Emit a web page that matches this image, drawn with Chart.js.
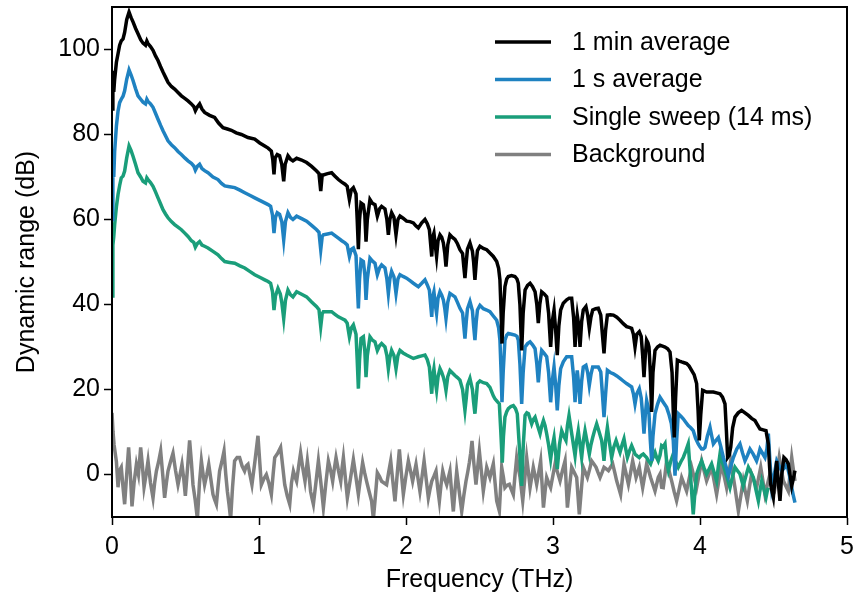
<!DOCTYPE html>
<html>
<head>
<meta charset="utf-8">
<script src="https://cdn.jsdelivr.net/npm/chart.js@4.4.1/dist/chart.umd.min.js"></script>
<style>
    html, body { margin: 0; padding: 0; background: #ffffff; }
</style>
</head>
<body>
<canvas id="dynamic_range_chart" width="864" height="598"></canvas>
<script>
// series: [frequency (THz), dynamic range (dB)]
const minAvg = [
    [0.000, 86], [0.006, 95], [0.012, 90], [0.018, 93], [0.030, 97], [0.041, 99], [0.052, 101], [0.063, 102],
    [0.075, 102.5], [0.086, 104], [0.100, 107], [0.116, 108.8], [0.130, 107.5], [0.143, 106.5], [0.160, 105],
    [0.177, 103.7], [0.195, 102.3], [0.211, 101.5], [0.228, 101], [0.237, 102], [0.245, 101.4], [0.262, 100.7],
    [0.279, 99.8], [0.296, 98.5], [0.313, 97.4], [0.330, 96], [0.347, 94.7], [0.364, 93.5], [0.381, 92.3],
    [0.404, 91.3], [0.426, 90.7], [0.449, 89.9], [0.472, 89.1], [0.495, 88.5], [0.517, 87.9], [0.540, 87.2],
    [0.556, 86.6], [0.567, 85.6], [0.580, 86.5], [0.596, 87.2], [0.612, 86], [0.630, 85.2], [0.664, 84.5],
    [0.698, 84], [0.725, 82.7], [0.755, 81.6], [0.785, 81.3], [0.812, 81], [0.845, 80.4], [0.880, 80],
    [0.925, 79.3], [0.971, 78.9], [1.005, 78], [1.039, 77.3], [1.062, 76.8], [1.084, 76.1], [1.094, 74],
    [1.102, 70.6], [1.110, 74.5], [1.124, 75.3], [1.140, 75], [1.155, 73], [1.168, 69], [1.178, 73],
    [1.197, 75], [1.214, 74.2], [1.231, 73.8], [1.256, 74.4], [1.290, 74], [1.324, 73.4], [1.358, 72.5],
    [1.392, 71.4], [1.408, 70.8], [1.420, 66.7], [1.430, 70.5], [1.438, 70.5], [1.466, 70.8], [1.494, 71],
    [1.517, 70.2], [1.540, 69.4], [1.563, 68.8], [1.585, 68.3], [1.600, 67.8], [1.615, 64.7], [1.628, 67],
    [1.642, 67.5], [1.660, 66], [1.668, 60], [1.676, 53], [1.684, 60], [1.694, 63.9], [1.710, 63.5],
    [1.720, 61], [1.728, 54.8], [1.737, 60], [1.755, 64.7], [1.772, 63.8], [1.789, 63.5], [1.805, 60.8],
    [1.820, 62.5], [1.834, 63.1], [1.857, 62.5], [1.870, 60], [1.880, 56.4], [1.890, 60], [1.902, 61.6],
    [1.918, 60.5], [1.932, 56.4], [1.945, 60], [1.959, 60.8], [1.980, 60.3], [2.004, 59.6], [2.027, 59.5],
    [2.050, 59.2], [2.067, 58.5], [2.084, 58], [2.107, 59.2], [2.129, 60], [2.145, 59], [2.159, 57.6],
    [2.175, 51.3], [2.183, 56], [2.190, 56.8], [2.199, 54], [2.208, 51.3], [2.218, 55], [2.231, 56.4],
    [2.243, 55.8], [2.254, 54.5], [2.264, 52], [2.272, 48.9], [2.284, 54], [2.299, 56.4], [2.316, 55.8],
    [2.333, 55.3], [2.350, 54.3], [2.367, 52.9], [2.385, 52], [2.393, 49], [2.401, 46.2], [2.410, 50],
    [2.418, 53], [2.435, 54.5], [2.452, 52.5], [2.460, 50], [2.469, 45.8], [2.478, 50], [2.486, 52.7],
    [2.503, 53.7], [2.526, 53.2], [2.549, 52.9], [2.571, 52.1], [2.594, 51.3], [2.617, 50.1], [2.630, 48.5],
    [2.639, 45.8], [2.647, 38], [2.653, 30.8], [2.661, 38], [2.673, 44.2], [2.685, 46], [2.696, 46.6],
    [2.718, 46.8], [2.741, 46.6], [2.755, 46], [2.764, 45], [2.775, 40], [2.787, 29.2], [2.797, 38],
    [2.810, 43.4], [2.827, 44.5], [2.844, 45], [2.861, 44.2], [2.878, 43], [2.890, 40], [2.900, 35.6],
    [2.910, 40], [2.923, 43], [2.940, 42.5], [2.957, 41.8], [2.970, 38], [2.984, 30], [2.995, 36],
    [3.007, 38.7], [3.018, 34], [3.029, 28.1], [3.040, 35], [3.052, 38.7], [3.070, 40.3], [3.093, 41.1],
    [3.110, 41.5], [3.127, 41.5], [3.140, 37], [3.150, 30], [3.158, 35], [3.165, 37.5], [3.175, 35],
    [3.184, 30], [3.195, 36], [3.206, 38.7], [3.224, 39.5], [3.236, 37.5], [3.247, 34.4], [3.258, 37],
    [3.270, 38.7], [3.290, 39], [3.308, 39.1], [3.325, 37.5], [3.336, 33], [3.347, 28.5], [3.358, 34],
    [3.370, 37.5], [3.390, 37.6], [3.411, 37.5], [3.434, 37], [3.456, 36.3], [3.478, 35.5], [3.501, 34.8],
    [3.518, 34.6], [3.535, 34.4], [3.547, 33], [3.558, 30], [3.570, 33], [3.587, 33.6], [3.600, 32.5],
    [3.610, 28], [3.619, 22.9], [3.628, 28], [3.637, 31.6], [3.646, 31], [3.653, 30], [3.662, 24],
    [3.671, 14.7], [3.680, 24], [3.694, 29.2], [3.711, 30], [3.728, 30.4], [3.745, 30.2], [3.762, 30],
    [3.780, 29.6], [3.796, 28.8], [3.810, 24], [3.818, 15], [3.825, 8.7], [3.834, 18], [3.846, 26.9],
    [3.860, 26.7], [3.875, 26.5], [3.892, 26.3], [3.909, 26.1], [3.926, 25.5], [3.943, 24.5], [3.960, 23.5],
    [3.977, 21.4], [3.987, 15], [3.995, 8], [4.005, 14], [4.018, 19.8], [4.031, 19.6], [4.045, 19.4],
    [4.068, 19.4], [4.091, 19.4], [4.113, 19.2], [4.136, 19], [4.153, 18.2], [4.170, 16.6], [4.180, 10],
    [4.188, 4], [4.198, 4.5], [4.209, 6.4], [4.222, 11], [4.238, 13.5], [4.260, 14.5], [4.283, 15.1],
    [4.306, 14.5], [4.329, 13.9], [4.351, 13.2], [4.374, 12.7], [4.391, 11.7], [4.408, 10.7], [4.430, 10.5],
    [4.449, 10.3], [4.465, 7.2], [4.473, 2], [4.481, -2.3], [4.490, -4], [4.499, -5.4], [4.510, -1],
    [4.522, 3.2], [4.533, -2], [4.544, -6.2], [4.556, 0], [4.571, 4], [4.585, 3.5], [4.601, 2.5],
    [4.612, 0], [4.624, -2.7], [4.635, -1], [4.646, 0.9]
];
const secAvg = [
    [0.000, 60], [0.006, 72], [0.012, 70], [0.018, 76], [0.030, 82], [0.041, 85.5], [0.052, 87.5], [0.063, 88.3],
    [0.075, 89], [0.086, 90.3], [0.100, 93], [0.116, 95.2], [0.130, 94], [0.143, 92.7], [0.160, 90.8],
    [0.177, 89.1], [0.195, 88.3], [0.211, 87.6], [0.228, 87.2], [0.237, 88.3], [0.245, 87.8], [0.262, 87.2],
    [0.279, 86.4], [0.296, 85], [0.313, 83.6], [0.330, 82.2], [0.347, 80.9], [0.364, 79.7], [0.381, 78.5],
    [0.404, 77.6], [0.426, 76.9], [0.449, 76], [0.472, 75.3], [0.495, 74.5], [0.517, 73.8], [0.540, 73.2],
    [0.556, 72.6], [0.567, 71.6], [0.580, 72.5], [0.596, 73], [0.612, 72], [0.630, 71.5], [0.653, 71],
    [0.687, 70], [0.721, 69.4], [0.745, 68.5], [0.767, 67.9], [0.800, 67.7], [0.835, 67.5], [0.870, 66.9],
    [0.903, 66.3], [0.937, 65.7], [0.971, 65.1], [1.005, 64.5], [1.039, 63.9], [1.062, 63.5], [1.079, 63.1],
    [1.092, 61], [1.102, 56.8], [1.112, 60.5], [1.124, 61.6], [1.140, 61.2], [1.155, 59.5], [1.168, 55.2],
    [1.180, 59.5], [1.197, 61.6], [1.214, 60.5], [1.231, 60], [1.256, 60.8], [1.290, 60.2], [1.324, 59.6],
    [1.358, 58.6], [1.392, 57.6], [1.408, 57], [1.420, 52.9], [1.430, 56], [1.438, 56.4], [1.466, 56.6],
    [1.494, 56.8], [1.517, 56.2], [1.540, 55.6], [1.563, 55], [1.585, 54.5], [1.600, 54], [1.615, 51.3],
    [1.628, 53], [1.642, 53.3], [1.660, 51.5], [1.668, 45], [1.676, 39.1], [1.684, 46], [1.694, 50.5],
    [1.710, 50.1], [1.720, 47], [1.728, 41.1], [1.737, 46], [1.755, 50.9], [1.772, 50.2], [1.789, 49.7],
    [1.805, 47], [1.820, 48.6], [1.834, 49.3], [1.857, 48.6], [1.870, 46], [1.880, 42.6], [1.890, 46],
    [1.902, 47.8], [1.918, 46.5], [1.932, 42.6], [1.945, 46], [1.959, 47], [1.980, 46.6], [2.004, 46.2],
    [2.027, 45.6], [2.050, 45], [2.067, 44.6], [2.084, 44.2], [2.107, 45], [2.129, 45.8], [2.145, 44.6],
    [2.159, 43.4], [2.175, 37.1], [2.183, 42], [2.190, 43], [2.199, 40], [2.208, 37.9], [2.218, 41.5],
    [2.231, 43], [2.243, 42.2], [2.254, 41.1], [2.264, 39], [2.272, 36.7], [2.284, 40.5], [2.299, 42.6],
    [2.316, 42.2], [2.333, 41.8], [2.350, 40.5], [2.367, 39.1], [2.385, 38], [2.393, 35], [2.401, 32],
    [2.410, 36], [2.418, 39], [2.435, 40.7], [2.452, 38.5], [2.460, 35], [2.469, 31.6], [2.478, 36],
    [2.486, 38.7], [2.503, 39.8], [2.526, 39], [2.549, 38.7], [2.571, 38.3], [2.594, 37.3], [2.617, 36.3],
    [2.630, 34.5], [2.639, 31.6], [2.647, 24], [2.653, 17], [2.661, 24], [2.673, 31.6], [2.685, 32.8],
    [2.696, 33.2], [2.718, 33], [2.741, 32.8], [2.755, 32.5], [2.764, 31.6], [2.775, 26], [2.787, 16.6],
    [2.797, 24], [2.810, 30], [2.827, 30.8], [2.844, 31.2], [2.861, 30.5], [2.878, 29.6], [2.890, 26],
    [2.900, 21.7], [2.910, 26], [2.923, 29.2], [2.940, 28.5], [2.957, 27.7], [2.970, 24], [2.984, 17],
    [2.995, 22], [3.007, 25.3], [3.018, 21], [3.029, 15.1], [3.040, 21], [3.052, 24.9], [3.070, 26.5],
    [3.093, 27.7], [3.110, 27.7], [3.127, 27.7], [3.140, 23], [3.150, 17], [3.158, 22], [3.165, 24.5],
    [3.175, 21], [3.184, 16.6], [3.195, 22], [3.206, 25.3], [3.224, 25.7], [3.236, 24], [3.247, 21],
    [3.258, 23.5], [3.270, 25.3], [3.290, 25.3], [3.308, 25.3], [3.325, 24.1], [3.336, 19], [3.347, 13.5],
    [3.358, 19], [3.370, 24.5], [3.390, 24], [3.411, 23.7], [3.434, 23.2], [3.456, 22.6], [3.478, 22],
    [3.501, 21.4], [3.518, 21], [3.535, 20.6], [3.547, 19], [3.558, 16.6], [3.570, 19], [3.587, 20.2],
    [3.600, 18], [3.610, 14], [3.619, 9.6], [3.628, 14], [3.637, 17.4], [3.646, 16], [3.653, 14.3],
    [3.662, 8], [3.671, 3.2], [3.680, 9], [3.694, 14.3], [3.711, 16.5], [3.728, 18.2], [3.750, 17],
    [3.773, 15.8], [3.790, 14], [3.805, 12], [3.818, 8], [3.830, -0.3], [3.841, 8], [3.852, 14.3],
    [3.870, 13.7], [3.886, 13.1], [3.903, 12.3], [3.920, 11.5], [3.937, 11], [3.954, 10.3], [3.970, 8.5],
    [3.988, 7.2], [4.000, 6.5], [4.011, 6], [4.022, 6], [4.034, 6.4], [4.050, 9], [4.068, 11.1],
    [4.080, 9], [4.091, 7.2], [4.108, 8], [4.125, 8.7], [4.142, 6.5], [4.159, 4], [4.176, 2],
    [4.193, -0.3], [4.210, 2], [4.227, 4], [4.250, 6], [4.272, 7.2], [4.290, 5], [4.306, 3.2],
    [4.323, 4.5], [4.340, 6], [4.362, 4.8], [4.385, 3.2], [4.397, 4.5], [4.408, 6], [4.425, 5],
    [4.442, 4], [4.455, 6], [4.465, 9.6], [4.476, 3], [4.488, -3.1], [4.505, 0], [4.522, 3.2],
    [4.539, 2], [4.556, 0.9], [4.573, 1.5], [4.590, 2.5], [4.607, 0], [4.624, -3.1], [4.635, -5], [4.646, -6.6]
];
const singleSweep = [
    [0.000, 42], [0.006, 54], [0.012, 56], [0.018, 58.8], [0.030, 63], [0.041, 65.9], [0.052, 68], [0.063, 69.8],
    [0.075, 70.2], [0.086, 71.4], [0.100, 74.5], [0.116, 77.3], [0.130, 76.2], [0.143, 74.9], [0.160, 73],
    [0.177, 71], [0.195, 70], [0.211, 69], [0.228, 68.6], [0.237, 69.8], [0.245, 69.4], [0.262, 68.7],
    [0.279, 67.8], [0.296, 66.5], [0.313, 65.1], [0.330, 63.7], [0.347, 62.3], [0.364, 61.3], [0.381, 60.4],
    [0.404, 59.5], [0.426, 58.8], [0.449, 58.2], [0.472, 57.6], [0.495, 56.8], [0.517, 56], [0.540, 55],
    [0.556, 54.6], [0.567, 53.5], [0.580, 54.3], [0.596, 54.8], [0.612, 54], [0.630, 53.7], [0.653, 53.3],
    [0.687, 52.5], [0.721, 51.7], [0.745, 50.8], [0.767, 50.1], [0.800, 49.9], [0.835, 49.7], [0.870, 49.1],
    [0.903, 48.6], [0.937, 47.8], [0.971, 47], [1.005, 46.4], [1.039, 45.8], [1.062, 45.4], [1.079, 45],
    [1.092, 43], [1.102, 38.7], [1.112, 42], [1.129, 43.8], [1.145, 42.5], [1.155, 40.5], [1.168, 36.7],
    [1.180, 41], [1.197, 43.4], [1.214, 42.3], [1.231, 41.8], [1.256, 43], [1.290, 42.4], [1.324, 41.8],
    [1.358, 40.6], [1.392, 39.5], [1.408, 38.8], [1.420, 34.8], [1.430, 37.8], [1.438, 38.3], [1.466, 38.3],
    [1.494, 38.3], [1.517, 37.7], [1.540, 37.1], [1.563, 36.7], [1.585, 36.3], [1.600, 35.6], [1.615, 32.4],
    [1.628, 34.5], [1.642, 35.2], [1.660, 33], [1.668, 27], [1.676, 20.2], [1.684, 27], [1.694, 32],
    [1.710, 32.4], [1.720, 29], [1.728, 22.9], [1.737, 28], [1.755, 32.4], [1.772, 31.6], [1.789, 31.2],
    [1.805, 29.2], [1.820, 30.3], [1.834, 30.8], [1.857, 30], [1.870, 28], [1.880, 24.9], [1.890, 27.5],
    [1.902, 29.2], [1.918, 28], [1.932, 24.9], [1.945, 28], [1.959, 29.2], [1.980, 28.6], [2.004, 28.1],
    [2.027, 27.7], [2.050, 27.3], [2.067, 27.5], [2.084, 27.7], [2.107, 27.9], [2.129, 28.1], [2.145, 27],
    [2.159, 25.3], [2.175, 19], [2.183, 23.5], [2.190, 24.9], [2.199, 22], [2.208, 19.8], [2.218, 23],
    [2.231, 24.9], [2.243, 24], [2.254, 22.9], [2.264, 21.5], [2.272, 19.8], [2.284, 23], [2.299, 24.5],
    [2.316, 23.9], [2.333, 23.3], [2.350, 22.8], [2.367, 22.2], [2.385, 20], [2.393, 17.5], [2.401, 15.1],
    [2.410, 18], [2.418, 21], [2.435, 22.6], [2.452, 20], [2.460, 17], [2.469, 14.3], [2.478, 18],
    [2.486, 21.4], [2.503, 22], [2.526, 21.6], [2.549, 21.4], [2.571, 20.5], [2.594, 18.5], [2.605, 17.8],
    [2.620, 17.2], [2.635, 16.6], [2.645, 10], [2.655, 2.8], [2.663, 9], [2.673, 13.5], [2.685, 14.8],
    [2.696, 15.5], [2.713, 16], [2.730, 16.2], [2.745, 15.5], [2.757, 14.3], [2.772, 6], [2.787, -2.7],
    [2.798, 7], [2.810, 13.9], [2.822, 14.5], [2.833, 14.3], [2.845, 13], [2.855, 11.9], [2.867, 13],
    [2.878, 13.5], [2.895, 11.5], [2.912, 9.6], [2.924, 11.5], [2.935, 12.7], [2.946, 11.5], [2.957, 9.6],
    [2.970, 7], [2.984, 3.6], [2.995, 6.5], [3.007, 8.7], [3.018, 5], [3.029, 1.3], [3.044, 7],
    [3.059, 10.3], [3.074, 9], [3.088, 8], [3.098, 11.5], [3.109, 13.9], [3.130, 9], [3.150, 4.4],
    [3.161, 8], [3.172, 10.3], [3.184, 7], [3.195, 4], [3.207, 8], [3.218, 10.3], [3.233, 7.5],
    [3.247, 4.8], [3.258, 7], [3.270, 8.7], [3.284, 10.5], [3.297, 11.9], [3.314, 10], [3.331, 8],
    [3.340, 5.5], [3.347, 3.2], [3.358, 8], [3.370, 11.1], [3.384, 7.5], [3.399, 4], [3.414, 6.5],
    [3.429, 8], [3.443, 6.5], [3.456, 5.2], [3.470, 7], [3.483, 8.4], [3.495, 6], [3.506, 4],
    [3.520, 5.5], [3.535, 6.8], [3.547, 5.8], [3.558, 4.8], [3.572, 4.4], [3.587, 4], [3.600, 4.5],
    [3.614, 4.8], [3.625, 4.4], [3.637, 4], [3.650, 3.2], [3.664, 2.5], [3.680, 4], [3.694, 5.2],
    [3.705, 4], [3.716, 3.2], [3.728, 4.5], [3.739, 6.8], [3.750, 6.5], [3.762, 7.2], [3.773, 3],
    [3.785, 0.9], [3.800, 3], [3.818, 4.8], [3.835, 3], [3.852, 1.7], [3.870, 3], [3.886, 4],
    [3.903, 5.5], [3.920, 7.2], [3.937, -1], [3.954, -9.4], [3.966, -4], [3.977, 0.1], [3.994, 1.8],
    [4.011, 3.2], [4.028, 1.5], [4.045, 0.1], [4.062, 1.3], [4.079, 2.5], [4.096, 0.5], [4.113, -1.5],
    [4.125, 2], [4.136, 4.8], [4.153, 2.8], [4.170, 0.9], [4.187, -1], [4.204, -3.1], [4.221, -0.5],
    [4.238, 1.7], [4.255, 0.9], [4.272, 0.1], [4.283, -1.3], [4.294, -2.7], [4.311, -0.5], [4.329, 1.7],
    [4.346, 0.5], [4.363, -0.7], [4.380, -3.5], [4.397, -6.2], [4.408, -3.8], [4.420, -1.5], [4.435, -3.5],
    [4.449, -5.4], [4.457, -4], [4.465, -3.1]
];
const background = [
    [0.000, 14.5], [0.007, 10], [0.014, 7], [0.030, 3], [0.041, -3], [0.052, 1], [0.063, 1.7], [0.075, -3],
    [0.086, -7], [0.100, 0], [0.113, 6.4], [0.125, 0], [0.136, -7.5], [0.150, -2], [0.166, 2.4], [0.180, 0],
    [0.195, 6.4], [0.207, 2], [0.218, -3], [0.232, 0], [0.245, 3.2], [0.262, -2], [0.279, -5.5], [0.290, -2],
    [0.302, 0.8], [0.317, 3], [0.331, 5.5], [0.345, 0], [0.358, -5.5], [0.370, -2], [0.381, 0.8], [0.398, 3],
    [0.415, 5], [0.432, 1], [0.449, -2.4], [0.463, 0], [0.476, 2.4], [0.488, -1], [0.499, -5], [0.515, 2],
    [0.528, 8], [0.540, 3], [0.551, -2.4], [0.566, -6], [0.581, -10.5], [0.595, -2], [0.608, 3.2], [0.620, 0],
    [0.630, -2.4], [0.645, 0], [0.658, 2.4], [0.672, -1], [0.687, -4.7], [0.699, -6], [0.710, -7], [0.721, -3],
    [0.732, 0.8], [0.747, 3], [0.762, 5.5], [0.774, 0], [0.785, -4], [0.796, -7], [0.807, -10.5], [0.820, -3],
    [0.834, 3.2], [0.851, 4], [0.868, 4], [0.885, 2], [0.902, 0.8], [0.913, 2], [0.925, 2.4], [0.938, 0],
    [0.952, -2.4], [0.972, 3], [0.993, 9.1], [1.005, 3], [1.016, -2.4], [1.033, -1], [1.050, 0], [1.067, -2],
    [1.084, -4.7], [1.096, 0], [1.107, 4], [1.127, 5], [1.147, 6.4], [1.161, 2], [1.175, -2.4], [1.192, -5],
    [1.209, -7], [1.221, -2], [1.234, 0.8], [1.245, -0.5], [1.256, -1.6], [1.270, 2], [1.283, 5.1], [1.298, 1.5],
    [1.313, -1.6], [1.329, 3.2], [1.340, 0], [1.351, -4], [1.360, -5.5], [1.370, -7], [1.387, -2], [1.404, 3.2],
    [1.421, -2], [1.438, -7.8], [1.455, -2], [1.472, 3.2], [1.487, 1], [1.501, -1.6], [1.513, 1.5], [1.524, 4],
    [1.540, 1], [1.556, -1.6], [1.565, 1.5], [1.574, 4], [1.588, -1], [1.601, -5.5], [1.622, -1], [1.642, 3.5],
    [1.659, -0.5], [1.676, -4.7], [1.690, -1], [1.705, 2.8], [1.718, 0.5], [1.732, -1.6], [1.749, -4], [1.766, -6.3],
    [1.778, -10.5], [1.792, -5], [1.805, 0.4], [1.820, -0.5], [1.834, -1.6], [1.851, -2], [1.868, -2.4], [1.882, 0.5],
    [1.896, 3.2], [1.910, -1.5], [1.925, -6.3], [1.940, 0], [1.955, 5.9], [1.968, 0.5], [1.982, -4.7], [1.999, -0.5],
    [2.016, 3.2], [2.031, 0.8], [2.045, -1.6], [2.057, 0.5], [2.068, 2.4], [2.082, -1], [2.095, -4], [2.109, -0.5],
    [2.123, 3.2], [2.137, -1], [2.152, -5.5], [2.163, -3.5], [2.175, -1.6], [2.190, -0.4], [2.204, 0.8], [2.215, -3],
    [2.227, -6.3], [2.238, -2.5], [2.250, 0.8], [2.263, -1], [2.277, -2.4], [2.288, -0.8], [2.299, 0.8], [2.310, -4],
    [2.322, -8.7], [2.334, -3.5], [2.345, 0.8], [2.362, -4], [2.379, -8.7], [2.393, -5], [2.408, -1.6], [2.420, 0.6],
    [2.431, 2.8], [2.440, 5], [2.449, 7.9], [2.462, 2.5], [2.476, -2.4], [2.487, 1.5], [2.499, 5.5], [2.512, 1],
    [2.526, -3.9], [2.538, -1], [2.549, 1.7], [2.560, 0.5], [2.571, -0.7], [2.583, 1], [2.594, 2.5], [2.606, -2],
    [2.617, -6.2], [2.635, -8.6], [2.651, 1.7], [2.662, -0.5], [2.673, -3.1], [2.688, -2.5], [2.703, -2.3], [2.716, -3.5],
    [2.730, -4.7], [2.742, 0], [2.753, 4], [2.765, 1.5], [2.776, -0.7], [2.785, -3.5], [2.794, -6.2], [2.808, -1],
    [2.821, 4], [2.833, 0.5], [2.844, -3.1], [2.855, -0.7], [2.866, 1.7], [2.878, -0.3], [2.889, -2.3], [2.903, 0.5],
    [2.916, 3.2], [2.926, -2.5], [2.935, -7.8], [2.946, -4], [2.957, -0.7], [2.971, -2], [2.984, -3.1], [2.999, -0.3],
    [3.014, 2.5], [3.031, 0.5], [3.048, -1.5], [3.065, 1], [3.082, 3.2], [3.090, -2.5], [3.098, -7.8], [3.112, -3],
    [3.127, 1.7], [3.144, 0.5], [3.161, -0.7], [3.170, -5], [3.179, -9.4], [3.193, -3.5], [3.206, 1.7], [3.220, 0.5],
    [3.234, -0.7], [3.249, 1.2], [3.263, 3.2], [3.278, 2.5], [3.293, 1.7], [3.306, 0.5], [3.320, -0.7], [3.334, 0.5],
    [3.347, 1.7], [3.362, 1.3], [3.377, 0.9], [3.391, 1.7], [3.406, 2.5], [3.420, 0.5], [3.433, -1.5], [3.446, -3],
    [3.460, -4.7], [3.472, -1], [3.483, 2.5], [3.498, 0.1], [3.513, -2.3], [3.528, 0.5], [3.542, 3.2], [3.554, 1.2],
    [3.565, -0.7], [3.576, 0.5], [3.587, 1.7], [3.598, -0.7], [3.610, -3.1], [3.624, -0.3], [3.637, 2.5], [3.651, 0.9],
    [3.664, -0.7], [3.679, -2.3], [3.694, -3.9], [3.705, -2.3], [3.716, -0.7], [3.728, 0.1], [3.739, -3], [3.750, -3.1],
    [3.762, 0], [3.773, 3.2], [3.790, 0.8], [3.807, -1.5], [3.824, -4], [3.841, -6.2], [3.858, -3.5], [3.875, -0.7],
    [3.892, -2.3], [3.909, -3.9], [3.926, -1], [3.943, 1.7], [3.960, -0.7], [3.977, -3.1], [3.994, 0], [4.011, 3.2],
    [4.028, 0.8], [4.045, -1.5], [4.062, 0.1], [4.079, 1.7], [4.096, -1.5], [4.113, -4.7], [4.130, -1], [4.147, 2.5],
    [4.164, -0.3], [4.181, -3.1], [4.195, 0], [4.209, 3.2], [4.224, 0], [4.238, -3.1], [4.250, -6], [4.261, -8.6],
    [4.278, -5], [4.294, -1.5], [4.308, -4], [4.322, -6.2], [4.336, -3], [4.351, 0.1], [4.368, -1.5], [4.385, -3.1],
    [4.399, -0.7], [4.413, 1.7], [4.428, -1.5], [4.442, -4.7], [4.459, -2.3], [4.476, 0.1], [4.493, -1.5], [4.510, -3.1],
    [4.525, 0.5], [4.539, 4], [4.553, 1.2], [4.567, -1.5], [4.584, -2.7], [4.601, -3.9], [4.612, 0], [4.624, 4],
    [4.635, 1.2], [4.646, -1.5]
];

// labels, colours, ticks
const seriesLabels = ['1 min average', '1 s average', 'Single sweep (14 ms)', 'Background'];
const seriesColors = ['#000000', '#1f82c1', '#1a9e7a', '#808080'];
const xTicks = [0, 1, 2, 3, 4, 5];
const yTicks = [0, 20, 40, 60, 80, 100];

const FONT = '"Liberation Sans", Arial, Helvetica, sans-serif';
const FONT_SIZE = 25;

// turn [f, dB] pairs into chart points
function toPoints(pairs) {
    return pairs.map(function(p) { return { x: p[0], y: p[1] }; });
}

// one line dataset
function getDataset(label, pairs, color) {
    return {
        label: label,
        data: toPoints(pairs),
        borderColor: color,
        backgroundColor: color,
        borderWidth: 3.5,
        pointRadius: 0,
        tension: 0,
        fill: false
    };
}

// frame round the plot (top and right spines too)
const framePlugin = {
    id: 'frame',
    afterDatasetsDraw(chart) {
        const a = chart.chartArea;
        const ctx = chart.ctx;
        ctx.save();
        ctx.strokeStyle = '#000';
        ctx.lineWidth = 2;
        ctx.strokeRect(a.left, a.top, a.right - a.left, a.bottom - a.top);
        ctx.restore();
    }
};

// legend inside the plot, top right, one entry per row
const legendPlugin = {
    id: 'insideLegend',
    afterDraw(chart) {
        const a = chart.chartArea;
        const ctx = chart.ctx;
        const x0 = a.right - 352;
        const y0 = a.top + 35;
        ctx.save();
        ctx.font = FONT_SIZE + 'px ' + FONT;
        ctx.textBaseline = 'middle';
        ctx.textAlign = 'left';
        chart.data.datasets.forEach(function(ds, i) {
            const y = y0 + i * 37.5;
            ctx.strokeStyle = ds.borderColor;
            ctx.lineWidth = 3.5;
            ctx.beginPath();
            ctx.moveTo(x0, y);
            ctx.lineTo(x0 + 56, y);
            ctx.stroke();
            ctx.fillStyle = '#000';
            ctx.fillText(ds.label, x0 + 77, y + 1);
        });
        ctx.restore();
    }
};

// build the chart
function createChart() {
    const ctx = document.getElementById('dynamic_range_chart').getContext('2d');
    const allSeries = [minAvg, secAvg, singleSweep, background];
    const datasets = allSeries.map(function(s, i) {
        return getDataset(seriesLabels[i], s, seriesColors[i]);
    });
    new Chart(ctx, {
        type: 'line',
        data: { datasets: datasets },
        plugins: [framePlugin, legendPlugin],
        options: {
            responsive: false,
            animation: false,
            events: [],
            layout: { padding: { left: 0, right: 17, top: 7, bottom: 0 } },
            plugins: {
                legend: { display: false },
                tooltip: { enabled: false }
            },
            scales: {
                x: {
                    type: 'linear',
                    min: 0,
                    max: 5,
                    afterBuildTicks: function(scale) {
                        scale.ticks = xTicks.map(function(v) { return { value: v }; });
                    },
                    afterFit: function(scale) {
                        scale.height = 81;
                        scale.paddingLeft = 0;
                        scale.paddingRight = 0;
                    },
                    ticks: {
                        color: '#000',
                        font: { family: FONT, size: FONT_SIZE },
                        padding: 7,
                        maxRotation: 0
                    },
                    grid: {
                        drawOnChartArea: false,
                        tickLength: 8,
                        tickWidth: 1.5,
                        tickColor: '#000'
                    },
                    border: { color: '#000', width: 2 },
                    title: {
                        display: true,
                        text: 'Frequency (THz)',
                        color: '#000',
                        font: { family: FONT, size: FONT_SIZE },
                        padding: { top: 0, bottom: 3 }
                    }
                },
                y: {
                    type: 'linear',
                    min: -10,
                    max: 110,
                    afterBuildTicks: function(scale) {
                        scale.ticks = yTicks.map(function(v) { return { value: v }; });
                    },
                    afterFit: function(scale) {
                        scale.width = 112;
                        scale.paddingTop = 0;
                        scale.paddingBottom = 0;
                    },
                    ticks: {
                        color: '#000',
                        font: { family: FONT, size: FONT_SIZE },
                        padding: 4
                    },
                    grid: {
                        drawOnChartArea: false,
                        tickLength: 8,
                        tickWidth: 1.5,
                        tickColor: '#000'
                    },
                    border: { color: '#000', width: 2 },
                    title: {
                        display: true,
                        text: 'Dynamic range (dB)',
                        color: '#000',
                        font: { family: FONT, size: FONT_SIZE },
                        padding: { top: 12, bottom: 0 }
                    }
                }
            }
        }
    });
}

createChart();
</script>
</body>
</html>
